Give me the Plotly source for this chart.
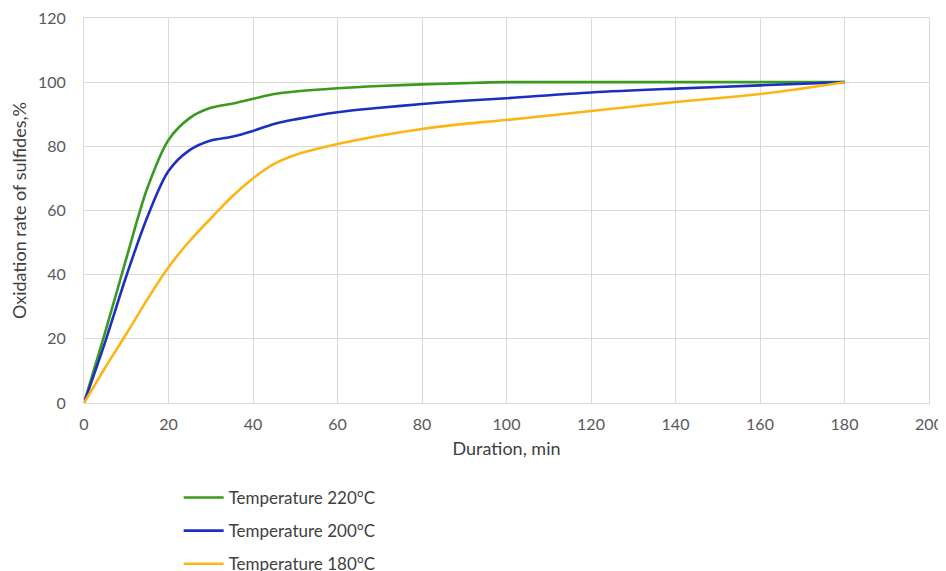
import plotly.graph_objects as go

duration = [0, 5, 10, 15, 20, 25, 30, 35, 40, 45, 50, 60, 70, 80, 90, 100, 120, 140, 160, 180]
t220 = [0, 22, 45, 67, 82, 88.8, 92, 93.3, 94.8, 96.3, 97.1, 98.1, 98.8, 99.3, 99.7, 100, 100, 100, 100, 100]
t200 = [0, 19, 39.5, 58, 72.3, 78.8, 81.8, 83, 84.8, 87, 88.4, 90.6, 92, 93.2, 94.2, 95, 96.8, 98, 99, 100]
t180 = [0, 11, 21.5, 32.3, 42.3, 50.5, 57.5, 64.3, 70, 74.5, 77.3, 80.7, 83.3, 85.4, 87, 88.2, 91, 93.8, 96.3, 100]

series = [("Temperature 220°C", t220, "#3a9a1e"),
          ("Temperature 200°C", t200, "#1c30c0"),
          ("Temperature 180°C", t180, "#fdb515")]

fig = go.Figure()
for i, (name, ys, col) in enumerate(series):
    fig.add_trace(go.Scatter(x=duration, y=ys, name=name, mode="lines",
                             line=dict(color=col, width=2.6, shape="spline", smoothing=0.9),
                             legendgroup=str(i)))

fam = "Lato, 'Open Sans', sans-serif"
tickfont = dict(family=fam, size=16, color="#595959")
titlefont = dict(family=fam, size=18, color="#404040")
axis_common = dict(showgrid=True, gridcolor="#d9d9d9", gridwidth=1, zeroline=False,
                   showline=True, linecolor="#d9d9d9", mirror=True, ticks="",
                   tickfont=tickfont, automargin=False, ticklabeloverflow="allow")
fig.update_layout(
    width=946, height=600,
    margin=dict(l=76, r=25, t=10, b=205),
    plot_bgcolor="white", paper_bgcolor="white",
    font=tickfont,
    xaxis=dict(range=[0, 200], dtick=20, ticklabelstandoff=7,
               title=dict(text="Duration, min", font=titlefont, standoff=10), **axis_common),
    yaxis=dict(range=[0, 120], dtick=20, ticklabelstandoff=14,
               title=dict(text="Oxidation rate of sulfides,%", font=titlefont, standoff=7), **axis_common),
    legend=dict(x=0.112, y=-0.200, xanchor="left", yanchor="top", orientation="v",
                tracegroupgap=8, itemwidth=40, font=dict(family=fam, size=17, color="#404040"),
                bgcolor="rgba(0,0,0,0)"),
    showlegend=True,
)
fig.write_html("out.html")
